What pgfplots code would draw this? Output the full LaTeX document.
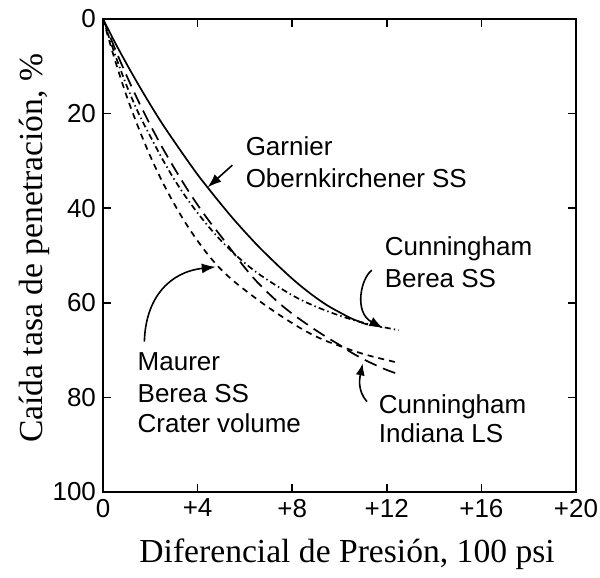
\documentclass[border=0pt]{standalone}
\usepackage{fontspec}
\setmainfont{Liberation Serif}
\newfontfamily\labelsans{Liberation Sans}
\usepackage{pgfplots}
\pgfplotsset{compat=1.18}
\usetikzlibrary{arrows.meta}

\newcommand\annot{\labelsans\fontsize{13}{15}\selectfont}

\begin{document}
\begin{tikzpicture}
\begin{axis}[
  scale only axis, width=236.5pt, height=236.5pt,
  xmin=0, xmax=20, ymin=0, ymax=100, y dir=reverse,
  xtick={0,4,8,12,16,20}, xticklabels={0,+4,+8,+12,+16,+20},
  ytick={0,20,40,60,80,100},
  tick align=inside, major tick length=4pt,
  axis line style={line width=1pt},
  tick style={line width=0.8pt, black},
  ticklabel style={font=\labelsans\fontsize{13}{15}\selectfont},
  /pgf/number format/assume math mode=true,
  xlabel={Diferencial de Presión, 100 psi},
  ylabel={Caída tasa de penetración, \%},
  label style={font=\fontsize{16.8}{20}\selectfont},
  xlabel style={at={(axis description cs:0.516,-0.131)}, anchor=center},
  ylabel style={at={(axis description cs:-0.146,0.515)}, anchor=center},
  clip=false,
]
% Garnier, Obernkirchener SS
\addplot[black, line width=0.85pt, smooth] coordinates {
 (0,0)(0.5,4.9)(1,9.5)(1.5,13.9)(2,18.1)(2.5,22.1)(3,25.8)(3.5,29.4)(4,32.9)
 (4.5,36.1)(5,39.2)(5.5,42.2)(6,45.0)(6.5,47.7)(7,50.2)(7.5,52.6)(8,54.9)
 (8.5,57.0)(9,58.9)(9.5,60.6)(10,62.0)(10.5,63.3)(11,64.3)(11.2,64.6)};
% Cunningham, Berea SS
\addplot[black, line width=0.85pt, smooth, dash pattern=on 3pt off 1.6pt on 0.7pt off 1.6pt] coordinates {
 (0,0)(0.5,7.4)(1,14.1)(1.5,19.9)(2,24.8)(2.5,29.5)(3,33.8)(3.5,37.6)(4,41.0)
 (4.5,44.1)(5,46.9)(5.5,49.4)(6,51.6)(6.5,53.6)(7,55.3)(7.5,56.9)(8,58.4)
 (8.5,59.7)(9,60.8)(9.5,61.8)(10,62.7)(10.5,63.5)(11,64.2)(11.5,64.8)(12,65.3)(12.5,65.8)};
% Cunningham, Indiana LS
\addplot[black, line width=0.85pt, smooth, dash pattern=on 6.5pt off 3.5pt] coordinates {
 (0,0)(0.5,6.2)(1,12.0)(1.5,17.4)(2,22.4)(2.5,27.1)(3,31.4)(3.5,35.5)(4,39.3)
 (4.5,42.8)(5,46.0)(5.5,49.3)(6,52.6)(6.5,55.5)(7,58.0)(7.5,60.3)(8,62.3)
 (8.5,64.1)(9,65.8)(9.5,67.4)(10,68.9)(10.5,70.5)(11,71.9)(11.5,73.1)(12,74.2)(12.5,75.1)};
% Maurer, Berea SS, crater volume
\addplot[black, line width=0.85pt, smooth, dash pattern=on 3pt off 2.5pt] coordinates {
 (0,0)(0.5,8.6)(1,16.3)(1.5,23.0)(2,29.0)(2.5,34.3)(3,39.0)(3.5,43.2)(4,46.9)
 (4.5,50.2)(5,53.0)(5.5,55.3)(6,57.3)(6.5,59.2)(7,61.0)(7.5,62.7)(8,64.3)
 (8.5,65.8)(9,67.1)(9.5,68.2)(10,69.1)(10.5,70.0)(11,70.8)(11.5,71.5)(12,72.1)(12.5,72.7)};

% annotations
\node[anchor=base west, font=\annot, inner sep=0pt] at (axis cs:6.02,28.8) {Garnier};
\node[anchor=base west, font=\annot, inner sep=0pt] at (axis cs:6.02,35.7) {Obernkirchener SS};
\draw[line width=0.8pt, -{Latex[length=7pt,width=5pt]}] (axis cs:5.47,30.9) -- (axis cs:4.42,35.6);

\node[anchor=base west, font=\annot, inner sep=0pt] at (axis cs:11.9,49.9) {Cunningham};
\node[anchor=base west, font=\annot, inner sep=0pt] at (axis cs:11.9,56.7) {Berea SS};
\draw[line width=0.8pt, -{Latex[length=7pt,width=5pt]}] (axis cs:11.37,53.1)
  .. controls (axis cs:10.9,54.8) and (axis cs:10.6,62.0) .. (axis cs:11.85,65.4);

\node[anchor=base west, font=\annot, inner sep=0pt] at (axis cs:1.45,74.4) {Maurer};
\node[anchor=base west, font=\annot, inner sep=0pt] at (axis cs:1.45,81.0) {Berea SS};
\node[anchor=base west, font=\annot, inner sep=0pt] at (axis cs:1.45,87.5) {Crater volume};
\draw[line width=0.8pt, -{Latex[length=7pt,width=5pt]}] (axis cs:1.75,68.2)
  .. controls (axis cs:1.8,59.0) and (axis cs:2.8,53.5) .. (axis cs:4.77,52.4);

\node[anchor=base west, font=\annot, inner sep=0pt] at (axis cs:11.65,83.3) {Cunningham};
\node[anchor=base west, font=\annot, inner sep=0pt] at (axis cs:11.65,89.6) {Indiana LS};
\draw[line width=0.8pt, -{Latex[length=6pt,width=4.5pt]}] (axis cs:11.16,80.9)
  .. controls (axis cs:10.75,78.5) and (axis cs:10.85,76.0) .. (axis cs:10.98,72.8);
\end{axis}
\pgfresetboundingbox
\path[use as bounding box] ([xshift=-51.5pt,yshift=-43pt]current axis.south west)
  rectangle ([xshift=12pt,yshift=9.5pt]current axis.north east);
\end{tikzpicture}
\end{document}
